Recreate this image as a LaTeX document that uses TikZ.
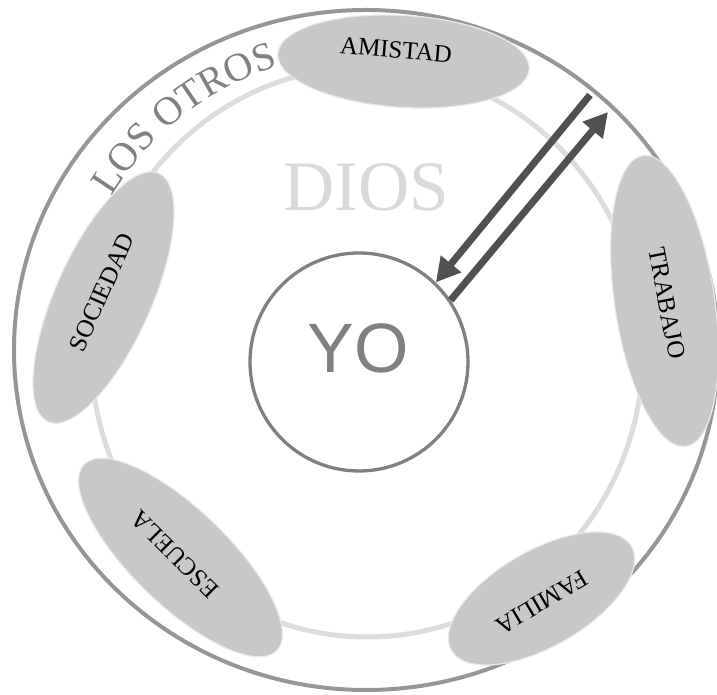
\documentclass[tikz,border=0pt]{standalone}
\usepackage{fontspec}
\setmainfont{Liberation Serif}
\newfontfamily\yofont{Liberation Sans}
\usetikzlibrary{shapes.geometric,arrows.meta,decorations.text}
\definecolor{outerc}{HTML}{969696}
\definecolor{ringc}{HTML}{DCDCDC}
\definecolor{ovalfill}{HTML}{C8C8C8}
\definecolor{ovaledge}{HTML}{EBEBEB}
\definecolor{yoc}{HTML}{808080}
\definecolor{diosc}{HTML}{D9D9D9}
\definecolor{arrowc}{HTML}{505050}
\newcommand\losfont{\fontsize{40}{40}\selectfont}
\begin{document}
\begin{tikzpicture}[x=1pt,y=1pt,
  oval/.style={ellipse, fill=ovalfill, draw=ovaledge, line width=1.2pt, inner sep=0pt},
  lbl/.style={font=\fontsize{25}{25}\selectfont, text=black, inner sep=0pt},
  arr/.style={draw=arrowc, line width=7pt, -{Triangle[length=24pt,width=25pt]}}]
\useasboundingbox (0,0) rectangle (717,695);
% outer ring and inner light ring
\draw[outerc, line width=4pt] (366,345) ellipse [x radius=352, y radius=340];
\draw[ringc, line width=5pt] (367,343) ellipse [x radius=276, y radius=285];
% ovals
\node[oval, minimum width=252pt, minimum height=92pt, rotate=-3.5] (amistad) at (403.5,633.5) {};
\node[oval, minimum width=294pt, minimum height=100pt, rotate=-81.6] (trabajo) at (664.5,394) {};
\node[oval, minimum width=208pt, minimum height=96pt, rotate=30] (familia) at (541.5,96.5) {};
\node[oval, minimum width=268pt, minimum height=96pt, rotate=-44] (escuela) at (180.5,137.5) {};
\node[oval, minimum width=272pt, minimum height=96pt, rotate=66] (sociedad) at (103.5,397.5) {};
% labels
\node[lbl, rotate=-5] (amistadtxt) at (396,645) {AMISTAD};
\node[lbl, rotate=-79] (trabajotxt) at (667,391.5) {TRABAJO};
\node[lbl, rotate=210.5] (familiatxt) at (542,92.5) {FAMILIA};
\node[lbl, rotate=135] (escuelatxt) at (175,140.5) {ESCUELA};
\node[lbl, rotate=66] (sociedadtxt) at (102,403) {SOCIEDAD};
% curved text
\path[decorate, decoration={text along path, text={|\losfont|LOS OTROS}, text align=center, text color=yoc}]
  (367,343) ++(158:299) arc[start angle=158, end angle=98, radius=299];
% DIOS
\node[font=\fontsize{71}{71}\selectfont, text=diosc, inner sep=0pt] (dios) at (366,508) {DIOS};
% YO
\node[circle, draw=yoc, line width=3.3pt, minimum size=218pt, inner sep=0pt] (yo) at (359,333) {};
\node[font=\yofont\fontsize{70}{70}\selectfont, text=yoc, inner sep=0pt] (yotxt) at (358,347) {YO};
% arrows
\coordinate (a1s) at (590,600);
\coordinate (a2e) at (608,583);
\draw[arr] (a1s) -- (yo.46.5);
\draw[arr] (yo.34.3) -- (a2e);
\end{tikzpicture}
\end{document}
